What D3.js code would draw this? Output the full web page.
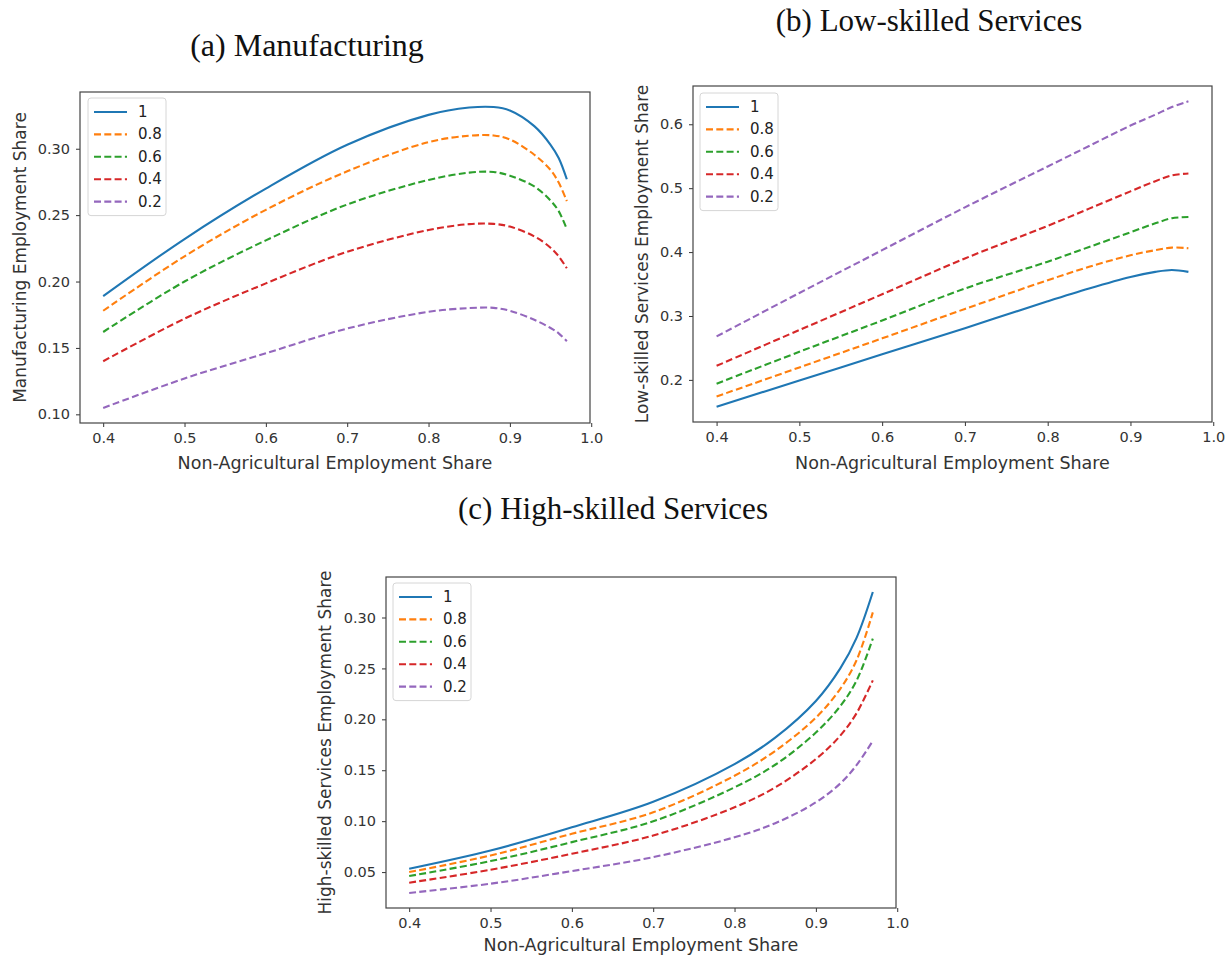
<!DOCTYPE html>
<html>
<head>
<meta charset="utf-8">
<script src="https://cdn.jsdelivr.net/npm/d3@7/dist/d3.min.js"></script>
<style>
  html, body { margin: 0; padding: 0; background: #fff; }
  svg { display: block; }
</style>
</head>
<body>
<svg id="chart" width="1226" height="956"></svg>
<script>
// ---------------- DATA ----------------
const seriesNames = ["1", "0.8", "0.6", "0.4", "0.2"];
const xTickLabels = [0.4, 0.5, 0.6, 0.7, 0.8, 0.9, 1.0];

// (a) Manufacturing
const xA = [0.40, 0.50, 0.60, 0.70, 0.80, 0.85, 0.88, 0.90, 0.93, 0.95, 0.96, 0.97];
const mfg_1  = [0.189, 0.232, 0.270, 0.303, 0.3255, 0.3310, 0.3314, 0.3288, 0.3170, 0.303, 0.293, 0.277];
const mfg_08 = [0.178, 0.219, 0.254, 0.283, 0.305, 0.3098, 0.3100, 0.3070, 0.2955, 0.284, 0.2745, 0.2606];
const mfg_06 = [0.162, 0.200, 0.231, 0.258, 0.2765, 0.2820, 0.2825, 0.2797, 0.2716, 0.261, 0.2530, 0.2395];
const mfg_04 = [0.140, 0.172, 0.1986, 0.2224, 0.2388, 0.2432, 0.2434, 0.2414, 0.2340, 0.2255, 0.2190, 0.210];
const mfg_02 = [0.1048, 0.127, 0.146, 0.1646, 0.1772, 0.1800, 0.1802, 0.1780, 0.1712, 0.1650, 0.1610, 0.155];
const yTicksA = [0.10, 0.15, 0.20, 0.25, 0.30];

// (b) Low-skilled Services
const xB = [0.40, 0.50, 0.60, 0.70, 0.80, 0.85, 0.90, 0.93, 0.95, 0.97];
const low_1  = [0.158, 0.199, 0.240, 0.281, 0.323, 0.343, 0.361, 0.369, 0.372, 0.369];
const low_08 = [0.174, 0.2195, 0.265, 0.311, 0.356, 0.377, 0.395, 0.403, 0.407, 0.406];
const low_06 = [0.194, 0.244, 0.293, 0.343, 0.385, 0.408, 0.431, 0.445, 0.453, 0.455];
const low_04 = [0.222, 0.278, 0.334, 0.390, 0.441, 0.468, 0.495, 0.511, 0.520, 0.523];
const low_02 = [0.268, 0.336, 0.403, 0.470, 0.534, 0.566, 0.598, 0.615, 0.627, 0.636];
const yTicksB = [0.2, 0.3, 0.4, 0.5, 0.6];

// (c) High-skilled Services
const xC = [0.40, 0.50, 0.60, 0.70, 0.80, 0.85, 0.90, 0.93, 0.95, 0.97];
const high_1  = [0.0533, 0.0712, 0.094, 0.119, 0.156, 0.182, 0.218, 0.250, 0.280, 0.325];
const high_08 = [0.050, 0.0663, 0.0876, 0.1087, 0.1446, 0.169, 0.2017, 0.230, 0.258, 0.305];
const high_06 = [0.0461, 0.0608, 0.0794, 0.0999, 0.1332, 0.1554, 0.187, 0.213, 0.238, 0.2793];
const high_04 = [0.0396, 0.0523, 0.068, 0.0859, 0.1136, 0.1332, 0.161, 0.184, 0.206, 0.2383];
const high_02 = [0.0295, 0.0386, 0.051, 0.0647, 0.0842, 0.098, 0.1185, 0.137, 0.155, 0.1789];
const yTicksC = [0.05, 0.10, 0.15, 0.20, 0.25, 0.30];

// ---------------- STYLE / LAYOUT ----------------
const colors = ["#1f77b4", "#ff7f0e", "#2ca02c", "#d62728", "#9467bd"];
const dashes = [null, "7,3.3", "7,3.3", "7,3.3", "7,3.3"];
const sansFont = "'DejaVu Sans', sans-serif";
const serifFont = "'Liberation Serif', 'DejaVu Serif', serif";

const panels = [
  { title: "(a) Manufacturing", tx: 307, ty: 56, tsize: 32,
    box: { l: 80, t: 92, r: 590, b: 423 },
    ylabel: "Manufacturing Employment Share", ylx: 20,
    xlabelY: 469,
    xs: xA, ys: [mfg_1, mfg_08, mfg_06, mfg_04, mfg_02],
    yTicks: yTicksA, yfmt: ".2f",
    leg: { x: 88, first: 112 } },
  { title: "(b) Low-skilled Services", tx: 929, ty: 31, tsize: 31,
    box: { l: 693, t: 86, r: 1212, b: 422 },
    ylabel: "Low-skilled Services Employment Share", ylx: 642,
    xlabelY: 469,
    xs: xB, ys: [low_1, low_08, low_06, low_04, low_02],
    yTicks: yTicksB, yfmt: ".1f",
    leg: { x: 700, first: 107 } },
  { title: "(c) High-skilled Services", tx: 613, ty: 519, tsize: 31,
    box: { l: 386, t: 577, r: 896, b: 908 },
    ylabel: "High-skilled Services Employment Share", ylx: 325,
    xlabelY: 951,
    xs: xC, ys: [high_1, high_08, high_06, high_04, high_02],
    yTicks: yTicksC, yfmt: ".2f",
    leg: { x: 393, first: 597 } }
];

const svg = d3.select("#chart");
svg.append("rect").attr("width", 1226).attr("height", 956).attr("fill", "#fff");

function padded(ext) {
  const d = (ext[1] - ext[0]) * 0.05;
  return [ext[0] - d, ext[1] + d];
}

panels.forEach(p => {
  const B = p.box;
  const allY = p.ys.flat();
  const x = d3.scaleLinear().domain(padded(d3.extent(p.xs))).range([B.l, B.r]);
  const y = d3.scaleLinear().domain(padded(d3.extent(allY))).range([B.b, B.t]);

  const g = svg.append("g");

  // title
  g.append("text").attr("x", p.tx).attr("y", p.ty)
    .attr("text-anchor", "middle")
    .attr("font-family", serifFont).attr("font-size", p.tsize)
    .attr("fill", "#111")
    .text(p.title);

  // lines
  const line = d3.line().curve(d3.curveCatmullRom.alpha(0.5))
    .x(d => x(d[0])).y(d => y(d[1]));
  p.ys.forEach((vals, i) => {
    g.append("path")
      .datum(p.xs.map((xv, j) => [xv, vals[j]]))
      .attr("d", line)
      .attr("fill", "none")
      .attr("stroke", colors[i])
      .attr("stroke-width", 2.1)
      .attr("stroke-dasharray", dashes[i])
      .attr("stroke-linecap", "butt");
  });

  // axes
  const xAxis = d3.axisBottom(x).tickValues(xTickLabels).tickFormat(d3.format(".1f"))
    .tickSize(4).tickPadding(6);
  const yAxis = d3.axisLeft(y).tickValues(p.yTicks).tickFormat(d3.format(p.yfmt))
    .tickSize(4).tickPadding(6);

  const gx = g.append("g").attr("transform", `translate(0,${B.b})`).call(xAxis);
  const gy = g.append("g").attr("transform", `translate(${B.l},0)`).call(yAxis);
  [gx, gy].forEach(ax => {
    ax.select(".domain").remove();
    ax.selectAll(".tick line").attr("stroke", "#333").attr("stroke-width", 1);
    ax.selectAll(".tick text").attr("font-family", sansFont).attr("font-size", 14.5).attr("fill", "#333");
  });

  // frame
  g.append("rect").attr("x", B.l).attr("y", B.t)
    .attr("width", B.r - B.l).attr("height", B.b - B.t)
    .attr("fill", "none").attr("stroke", "#444").attr("stroke-width", 1.2);

  // axis labels
  g.append("text")
    .attr("x", (B.l + B.r) / 2).attr("y", p.xlabelY)
    .attr("text-anchor", "middle")
    .attr("font-family", sansFont).attr("font-size", 17.5).attr("fill", "#333")
    .text("Non-Agricultural Employment Share");
  g.append("text")
    .attr("transform", `translate(${p.ylx},${(B.t + B.b) / 2}) rotate(-90)`)
    .attr("text-anchor", "middle").attr("dominant-baseline", "central")
    .attr("font-family", sansFont).attr("font-size", 17).attr("fill", "#333")
    .text(p.ylabel);

  // legend
  const L = p.leg, step = 22.4;
  const lg = g.append("g");
  lg.append("rect")
    .attr("x", L.x).attr("y", L.first - 14)
    .attr("width", 78).attr("height", step * 4 + 28)
    .attr("rx", 3).attr("fill", "#fff").attr("fill-opacity", 0.8)
    .attr("stroke", "#d6d6d6").attr("stroke-width", 1);
  seriesNames.forEach((name, i) => {
    const yy = L.first + i * step;
    lg.append("line")
      .attr("x1", L.x + 6).attr("x2", L.x + 39)
      .attr("y1", yy).attr("y2", yy)
      .attr("stroke", colors[i]).attr("stroke-width", 2.1)
      .attr("stroke-dasharray", dashes[i]);
    lg.append("text")
      .attr("x", L.x + 50).attr("y", yy)
      .attr("dominant-baseline", "central")
      .attr("font-family", sansFont).attr("font-size", 15).attr("fill", "#222")
      .text(name);
  });
});
</script>
</body>
</html>
